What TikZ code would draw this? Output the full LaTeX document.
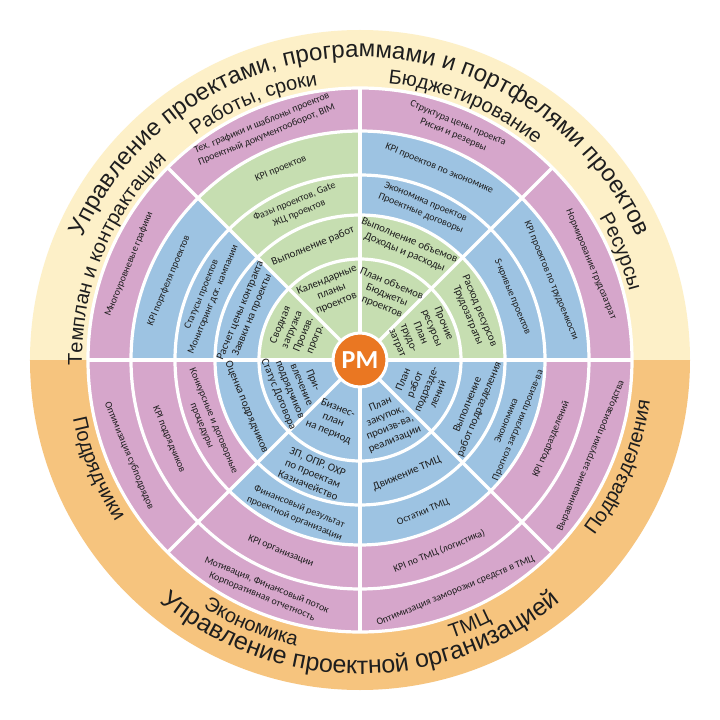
\documentclass[tikz,border=0pt]{standalone}
\usepackage{fontspec}
\setmainfont{Carlito}
\newfontfamily\rkArial{Liberation Sans}
\usetikzlibrary{decorations.text}
\definecolor{cream}{HTML}{FDF0C8}
\definecolor{band}{HTML}{F6C47E}
\definecolor{pk}{HTML}{D6A6CB}
\definecolor{bl}{HTML}{9DC3E2}
\definecolor{gr}{HTML}{C6DEB1}
\definecolor{pmc}{HTML}{EA7722}
\definecolor{txt}{HTML}{1E1E1E}
\newcommand\rkBig{\rkArial\fontsize{24}{28}\selectfont}
\newcommand\rkBigB{\rkArial\fontsize{25}{28}\selectfont}
\newcommand\rkSub{\rkArial\fontsize{20}{24}\selectfont}
\newcommand\rkS{\fontsize{10}{12.5}\selectfont}
\newcommand\rkM{\fontsize{11}{12.5}\selectfont}
\newcommand\rkseg[4]{\fill[#1] (#2:#3) arc[start angle=#2,end angle=#2+45,radius=#3] -- ({#2+45}:#4) arc[start angle=#2+45,end angle=#2,radius=#4] -- cycle;}
\begin{document}
\begin{tikzpicture}[x=1pt,y=1pt,
  lblS/.style={font=\rkS, align=center, text=txt, inner sep=0pt},
  lblM/.style={font=\rkM, align=center, text=txt, inner sep=0pt},
  sep/.style={white, line width=3.2}]
\useasboundingbox (-360,-360) rectangle (360,360);
\fill[white] (-360,-360) rectangle (360,360);
\fill[cream] (0:330) arc[start angle=0,end angle=180,radius=330] -- cycle;
\fill[band] (180:330) arc[start angle=180,end angle=360,radius=330] -- cycle;
\foreach \k/\cA/\cB/\cC/\cD/\cE in {0/gr/gr/bl/bl/pk, 1/gr/gr/bl/bl/pk, 2/gr/gr/gr/gr/pk, 3/gr/bl/bl/bl/pk, 4/bl/bl/pk/pk/pk, 5/bl/bl/bl/pk/pk, 6/bl/bl/bl/pk/pk, 7/bl/bl/bl/pk/pk}{
  \pgfmathsetmacro\a{45*\k}
  \rkseg{\cA}{\a}{20}{101}
  \rkseg{\cB}{\a}{101}{145}
  \rkseg{\cC}{\a}{145}{185}
  \rkseg{\cD}{\a}{185}{229}
  \rkseg{\cE}{\a}{229}{272}
}
\foreach \r in {101,145,185,229,272} \draw[sep] (0,0) circle[radius=\r];
\foreach \t in {0,45,...,315} \draw[sep] (\t:20) -- (\t:273);
\node[circle, fill=pmc, draw=white, line width=3, minimum size=54, inner sep=0pt, text=white, font=\bfseries\fontsize{26}{26}\selectfont] (pm) at (0,0) {PM};

% outer band texts
\path[decorate, decoration={text along path, text align=center, text color=txt,
  text={|\rkBig|Управление проектами, программами и портфелями проектов}}]
  (180:303) arc[start angle=180,end angle=0,radius=303];
\path[decorate, decoration={text along path, text align=center, text color=txt,
  text={|\rkBigB|Управление проектной организацией}}]
  (180:314) arc[start angle=180,end angle=360,radius=314];
\path[decorate, decoration={text along path, text align=center, text color=txt,
  text={|\rkSub|Темплан и контрактация}}]
  (187.5:278) arc[start angle=187.5,end angle=127.5,radius=278];
\path[decorate, decoration={text along path, text align=center, text color=txt,
  text={|\rkSub|Работы, сроки}}]
  (142.5:278) arc[start angle=142.5,end angle=82.5,radius=278];
\path[decorate, decoration={text along path, text align=center, text color=txt,
  text={|\rkSub|Бюджетирование}}]
  (97.5:278) arc[start angle=97.5,end angle=37.5,radius=278];
\path[decorate, decoration={text along path, text align=center, text color=txt,
  text={|\rkSub|Ресурсы}}]
  (52.5:278) arc[start angle=52.5,end angle=-7.5,radius=278];
\path[decorate, decoration={text along path, text align=center, text color=txt,
  text={|\rkSub|Подрядчики}}]
  (172.5:293) arc[start angle=172.5,end angle=232.5,radius=293];
\path[decorate, decoration={text along path, text align=center, text color=txt,
  text={|\rkSub|Экономика}}]
  (217.5:293) arc[start angle=217.5,end angle=277.5,radius=293];
\path[decorate, decoration={text along path, text align=center, text color=txt,
  text={|\rkSub|ТМЦ}}]
  (262.5:293) arc[start angle=262.5,end angle=322.5,radius=293];
\path[decorate, decoration={text along path, text align=center, text color=txt,
  text={|\rkSub|Подразделения}}]
  (307.5:293) arc[start angle=307.5,end angle=367.5,radius=293];

% sector 0 (0-45)
\node[lblM, rotate=-67.5] (a1) at (24:66) {Прочие\\ресурсы\\План\\трудо-\\затрат};
\node[lblM, rotate=-67.5] (a2) at (22.5:123) {Расход ресурсов\\Трудозатраты};
\node[lblS, rotate=-67.5] (a3) at (22.5:165) {S-кривые проектов};
\node[lblS, rotate=-67.5] (a4) at (22.5:207) {KPI проектов по трудоемкости};
\node[lblS, rotate=-67.5] (a5) at (22.5:250) {Нормирование трудозатрат};
% sector 1 (45-90)
\node[lblM, rotate=-22.5] (b1) at (67.5:70) {План объемов\\Бюджеты\\проектов};
\node[lblM, rotate=-22.5] (b2) at (67.5:123) {Выполнение объемов\\Доходы и расходы};
\node[lblS, rotate=-22.5] (b3) at (67.5:165) {Экономика проектов\\Проектные договоры};
\node[lblS, rotate=-22.5] (b4) at (67.5:207) {KPI проектов по экономике};
\node[lblS, rotate=-22.5] (b5) at (67.5:250) {Структура цены проекта\\Риски и резервы};
% sector 2 (90-135)
\node[lblM, rotate=22.5] (c1) at (112.5:74) {Календарные\\планы\\проектов};
\node[lblM, rotate=22.5] (c2) at (112.5:123) {Выполнение работ};
\node[lblS, rotate=22.5] (c3) at (112.5:165) {Фазы проектов, Gate\\ЖЦ проектов};
\node[lblS, rotate=22.5] (c4) at (112.5:207) {KPI проектов};
\node[lblS, rotate=22.5] (c5) at (112.5:250) {Тех. графики и шаблоны проектов\\Проектный документооборот, BIM};
% sector 3 (135-180)
\node[lblM, rotate=67.5] (d1) at (156:68) {Сводная\\загрузка\\Произв.\\прогр.};
\node[lblM, rotate=67.5] (d2) at (157.5:123) {Расчет цены контракта\\Заявки на проекты};
\node[lblS, rotate=67.5] (d3) at (157.5:165) {Статусы проектов\\Мониторинг дог. кампании};
\node[lblS, rotate=67.5] (d4) at (157.5:207) {KPI портфеля проектов};
\node[lblS, rotate=67.5] (d5) at (157.5:250) {Многоуровневые графики};
% sector 4 (180-225)
\node[lblM, rotate=-67.5] (e1) at (203:70) {При-\\влечение\\подрядчиков\\Статус Договора};
\node[lblM, rotate=-67.5] (e2) at (202.5:123) {Оценка подрядчиков};
\node[lblS, rotate=-67.5] (e3) at (202.5:165) {Конкурсные и договорные\\процедуры};
\node[lblS, rotate=-67.5] (e4) at (202.5:207) {KPI подрядчиков};
\node[lblS, rotate=-67.5] (e5) at (202.5:250) {Оптимизация субподрядов};
% sector 5 (225-270)
\node[lblM, rotate=-22.5] (f1) at (246:66) {Бизнес-\\план\\на период};
\node[lblM, rotate=-22.5] (f2) at (247.5:123) {ЗП, ОПР, ОХР\\по проектам\\Казначейство};
\node[lblS, rotate=-22.5] (f3) at (247.5:165) {Финансовый результат\\проектной организации};
\node[lblS, rotate=-22.5] (f4) at (247.5:207) {KPI организации};
\node[lblS, rotate=-22.5] (f5) at (247.5:250) {Мотивация, Финансовый поток\\Корпоративная отчетность};
% sector 6 (270-315)
\node[lblM, rotate=22.5] (g1) at (294:68) {План\\закупок,\\произв-ва,\\реализации};
\node[lblM, rotate=22.5] (g2) at (292.5:123) {Движение ТМЦ};
\node[lblS, rotate=22.5] (g3) at (292.5:165) {Остатки ТМЦ};
\node[lblS, rotate=22.5] (g4) at (292.5:207) {KPI по ТМЦ (логистика)};
\node[lblS, rotate=22.5] (g5) at (292.5:250) {Оптимизация заморозки средств в ТМЦ};
% sector 7 (315-360)
\node[lblM, rotate=67.5] (h1) at (336:66) {План\\работ\\подразде-\\лений};
\node[lblM, rotate=67.5] (h2) at (337.5:123) {Выполнение\\работ подразделения};
\node[lblS, rotate=67.5] (h3) at (337.5:165) {Экономика\\Прогноз загрузки произв-ва};
\node[lblS, rotate=67.5] (h4) at (337.5:207) {KPI подразделений};
\node[lblS, rotate=67.5] (h5) at (337.5:250) {Выравнивание загрузки производства};
\end{tikzpicture}
\end{document}
